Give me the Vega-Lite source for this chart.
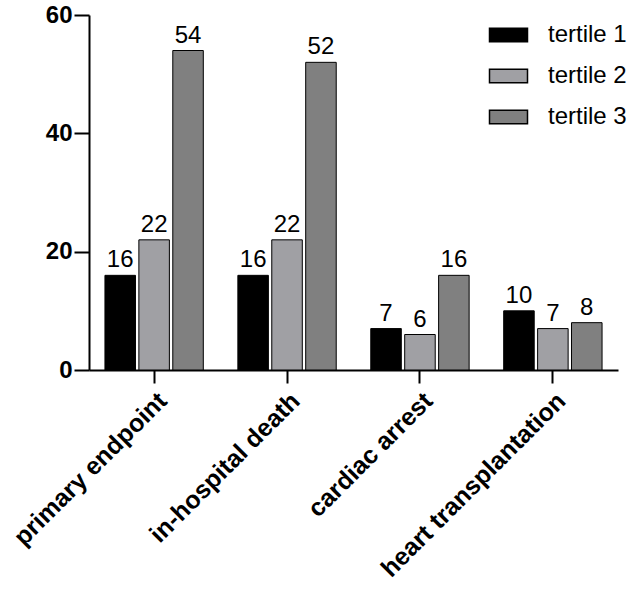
{
  "$schema": "https://vega.github.io/schema/vega-lite/v6.json",
  "autosize": {"type": "none"},
  "padding": {"left": 89, "top": 15, "right": 12, "bottom": 221},
  "width": 529,
  "height": 355,
  "background": "white",
  "config": {
    "view": {"stroke": null},
    "font": "Liberation Sans"
  },
  "data": {
    "values": [
      {"outcome": "primary endpoint", "tertile": "tertile 1", "value": 16},
      {"outcome": "primary endpoint", "tertile": "tertile 2", "value": 22},
      {"outcome": "primary endpoint", "tertile": "tertile 3", "value": 54},
      {"outcome": "in-hospital death", "tertile": "tertile 1", "value": 16},
      {"outcome": "in-hospital death", "tertile": "tertile 2", "value": 22},
      {"outcome": "in-hospital death", "tertile": "tertile 3", "value": 52},
      {"outcome": "cardiac arrest", "tertile": "tertile 1", "value": 7},
      {"outcome": "cardiac arrest", "tertile": "tertile 2", "value": 6},
      {"outcome": "cardiac arrest", "tertile": "tertile 3", "value": 16},
      {"outcome": "heart transplantation", "tertile": "tertile 1", "value": 10},
      {"outcome": "heart transplantation", "tertile": "tertile 2", "value": 7},
      {"outcome": "heart transplantation", "tertile": "tertile 3", "value": 8}
    ]
  },
  "encoding": {
    "x": {
      "field": "outcome",
      "type": "nominal",
      "sort": null,
      "scale": {"paddingInner": 0.26, "paddingOuter": 0.12},
      "axis": {
        "title": null,
        "domainColor": "black",
        "domainWidth": 2,
        "tickColor": "black",
        "tickWidth": 2,
        "tickSize": 13,
        "labelAngle": -45,
        "labelAlign": "right",
        "labelBaseline": "top",
        "labelFont": "Liberation Sans",
        "labelFontWeight": "bold",
        "labelFontSize": 25,
        "labelColor": "black",
        "labelPadding": 5,
        "labelLimit": 0
      }
    },
    "xOffset": {
      "field": "tertile",
      "type": "nominal",
      "scale": {"paddingInner": 0.1, "paddingOuter": 0}
    },
    "y": {
      "field": "value",
      "type": "quantitative",
      "scale": {"domain": [0, 60], "nice": false},
      "axis": {
        "title": null,
        "values": [0, 20, 40, 60],
        "grid": false,
        "domainColor": "black",
        "domainWidth": 2,
        "tickColor": "black",
        "tickWidth": 2,
        "tickSize": 15,
        "labelFont": "Liberation Sans",
        "labelFontWeight": "bold",
        "labelFontSize": 24,
        "labelColor": "black",
        "labelPadding": 2
      }
    }
  },
  "layer": [
    {
      "mark": {"type": "bar", "stroke": "black", "strokeWidth": 1},
      "encoding": {
        "fill": {
          "field": "tertile",
          "type": "nominal",
          "scale": {"domain": ["tertile 1", "tertile 2", "tertile 3"], "range": ["#000000", "#a0a0a4", "#808080"]},
          "legend": {
            "title": null,
            "orient": "none",
            "legendX": 407.5,
            "legendY": 8,
            "padding": 0,
            "symbolType": "M-2,-0.7L2,-0.7L2,0.7L-2,0.7Z",
            "symbolSize": 361,
            "symbolStrokeColor": "black",
            "symbolStrokeWidth": 1.5,
            "symbolOpacity": 1,
            "rowPadding": 17,
            "labelOffset": 27.5,
            "labelFont": "Liberation Sans",
            "labelFontSize": 24,
            "labelColor": "black"
          }
        }
      }
    },
    {
      "mark": {"type": "text", "baseline": "alphabetic", "dy": -8, "fontSize": 24, "font": "Liberation Sans", "color": "black"},
      "encoding": {
        "text": {"field": "value", "type": "quantitative"}
      }
    }
  ]
}
